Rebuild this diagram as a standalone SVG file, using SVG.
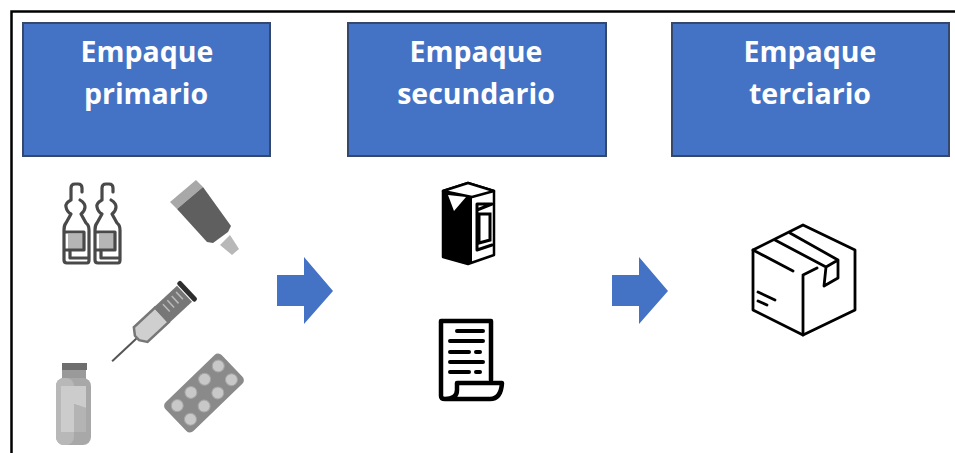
<svg xmlns="http://www.w3.org/2000/svg" width="955" height="453" viewBox="0 0 955 453">
<style>
.hd{fill:#4472c4;stroke:#34486e;stroke-width:2}
.t{font-family:"Open Sans","Liberation Sans",sans-serif;font-weight:700;font-size:28.500px;fill:#fff;text-anchor:middle}
.arr{fill:#4472c4}
.a{fill:none;stroke:#4a4a4a;stroke-width:3.200;stroke-linejoin:round;stroke-linecap:round}
.k{fill:none;stroke:#000;stroke-linejoin:round;stroke-linecap:round}
</style>
<defs>
<filter id="s" x="-10%" y="-10%" width="120%" height="120%"><feGaussianBlur stdDeviation="0.6"/></filter>
<g id="amp">
<rect x="68" y="234" width="15" height="16" fill="#b5b5b5"/>
<path class="a" d="M71 200V188Q71 184 75 184H78Q82 184 82 188V192M71 200Q65 203 66 207Q67 212 71 214L66 223Q64 225 64 230V260Q64 263 67 263H87Q89 263 89 260V230Q89 225 86 223L81 214Q85 211 85 207Q85 203 80 200M64 232H84V250H64M70 250V258H89"/>
</g>
</defs>
<rect x="11.500" y="11.500" width="960" height="460" fill="#fff" stroke="#000" stroke-width="2.500"/>
<g id="connectors">
<path class="arr" d="M277 275H304V257L333 291L304 324V306H277Z"/>
<path class="arr" d="M612 275H639V257L668 291L639 324V306H612Z"/>
</g>
<g id="node-primario">
<rect class="hd" x="23" y="23" width="247" height="133"/>
<text class="t" x="147" y="62">Empaque</text>
<text class="t" x="146" y="104">primario</text>
<g filter="url(#s)">
<use href="#amp"/>
<use href="#amp" x="31"/>
<path d="M170 202L196 180L203 187L177 209Z" fill="#a8a8a8"/>
<path d="M177 209L203 187L231 226L228 232L213 243L207 242Z" fill="#5f5f5f"/>
<path d="M220 245L230 235L239 249L232 255Z" fill="#b8b8b8"/>
<g transform="translate(137 338) rotate(-43)">
<path d="M-34 0H0" stroke="#555" stroke-width="2" fill="none"/>
<path d="M0 -3L5 -10H34V10H5L0 3Z" fill="#cfcfcf" stroke="#777" stroke-width="2.500"/>
<rect x="33" y="-11" width="32" height="22" fill="#777"/>
<path d="M42 -7V3M48 -7V3M54 -7V3M60 -7V3" stroke="#bbb" stroke-width="1.500"/>
<rect x="66" y="-13" width="5" height="26" rx="2" fill="#2e2e2e"/>
</g>
<rect x="62" y="363" width="25" height="7" fill="#6e6e6e"/>
<rect x="62" y="370" width="24" height="9" fill="#9a9a9a"/>
<rect x="56" y="378" width="35" height="67" rx="8" fill="#a8a8a8"/>
<rect x="56" y="378" width="18" height="67" rx="8" fill="#b8b8b8"/>
<path d="M61 386H86V408L74 404V432H61Z" fill="#cccccc"/>
<path d="M74 404L86 408V432H74Z" fill="#b4b4b4"/>
<g transform="translate(204 393) rotate(-44)">
<rect x="-39" y="-20" width="78" height="40" rx="5" fill="#8a8a8a"/>
<g fill="#c8c8c8" stroke="#a5a5a5">
<circle cx="-28" cy="-9.500" r="6"/><circle cx="-9" cy="-9.500" r="6"/><circle cx="10" cy="-9.500" r="6"/><circle cx="29" cy="-9.500" r="6"/>
<circle cx="-28" cy="9.500" r="6"/><circle cx="-9" cy="9.500" r="6"/><circle cx="10" cy="9.500" r="6"/><circle cx="29" cy="9.500" r="6"/>
</g>
</g>
</g>
</g>
<g id="node-secundario">
<rect class="hd" x="348" y="23" width="258" height="133"/>
<text class="t" x="476" y="62">Empaque</text>
<text class="t" x="476" y="104">secundario</text>
<g filter="url(#s)">
<path d="M443 191L468 183L494 191V255L468 264L443 257Z" fill="#fff" stroke="#000" stroke-width="2.500" stroke-linejoin="round"/>
<path d="M443 191L472 196V263L468 264L443 257Z" fill="#000"/>
<path d="M443 191L468 183L494 191L472 197Z" fill="#fff" stroke="#000" stroke-width="2.500" stroke-linejoin="round"/>
<path d="M448 195L466 197L454 211Z" fill="#fff"/>
<path d="M477 210L492 204H477V250L492 245" class="k" stroke-width="3"/>
<path d="M479 214H490V240L479 243Z" fill="#fff" stroke="#000" stroke-width="3"/>
<path class="k" stroke-width="4.500" d="M491 380V321H441V396Q441 399 445 399H490Q501 399 502 383H457V390Q457 399 445 399"/>
<path class="k" stroke-width="4" stroke-linecap="butt" d="M457 331H483M450 341H483M450 352H469M476 352H480M450 362H483M450 372H469M476 372H480"/>
</g>
</g>
<g id="node-terciario">
<rect class="hd" x="672" y="23" width="277" height="133"/>
<text class="t" x="810" y="62">Empaque</text>
<text class="t" x="810" y="104">terciario</text>
<g filter="url(#s)">
<path class="k" stroke-width="2.800" d="M803 225L855 250V310L803 335L753 310V250Z"/>
<path class="k" stroke-width="2.800" d="M753 250L793 271M803 276V335M803 275L817 268"/>
<path class="k" stroke-width="2.800" d="M775 240L826 267L824 286L838 278V260L790 233M826 267L838 260"/>
<path class="k" stroke-width="2.800" d="M758 292L775 300M758 301L767 305"/>
</g>
</g>
</svg>
